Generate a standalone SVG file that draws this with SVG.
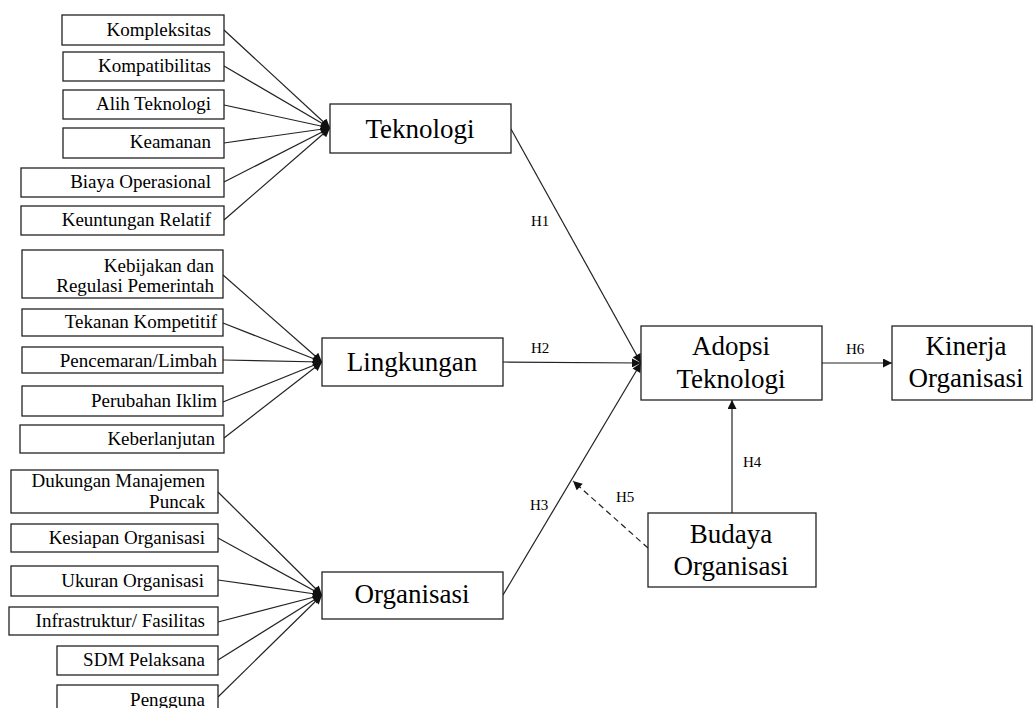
<svg xmlns="http://www.w3.org/2000/svg" width="1033" height="708" viewBox="0 0 1033 708">
<defs>
<style>
rect{fill:#fff;stroke:#222;stroke-width:1.3}
text{font-family:'Liberation Serif','Times New Roman',serif;fill:#000}
.s{font-size:19px;text-anchor:end}
.m{font-size:27px;text-anchor:middle}
.h{font-size:15px}
.c line{stroke:#222;stroke-width:1.2;fill:none;marker-end:url(#ah)}
.c line.d{stroke-dasharray:6,4}
</style>
<marker id="ah" viewBox="0 0 10 10" refX="10" refY="5" markerWidth="10" markerHeight="9" orient="auto" markerUnits="userSpaceOnUse">
<path d="M0,0 L10,5 L0,10 z" fill="#111"/>
</marker>
</defs>
<rect x="0" y="0" width="1033" height="708" style="fill:#fff;stroke:none"/>
<g class="c" id="connectors">
<line x1="224" y1="30" x2="330" y2="128"/>
<line x1="224" y1="66" x2="330" y2="128"/>
<line x1="224" y1="105" x2="330" y2="128"/>
<line x1="224" y1="143" x2="330" y2="128"/>
<line x1="224" y1="182" x2="330" y2="128"/>
<line x1="224" y1="220" x2="330" y2="128"/>
<line x1="223" y1="275" x2="322" y2="362"/>
<line x1="223" y1="323" x2="322" y2="362"/>
<line x1="223" y1="360" x2="322" y2="362"/>
<line x1="223" y1="402" x2="322" y2="362"/>
<line x1="224" y1="438" x2="322" y2="362"/>
<line x1="218" y1="492" x2="322" y2="595"/>
<line x1="218" y1="538" x2="322" y2="595"/>
<line x1="218" y1="580" x2="322" y2="595"/>
<line x1="218" y1="622" x2="322" y2="595"/>
<line x1="218" y1="660" x2="322" y2="595"/>
<line x1="218" y1="697" x2="322" y2="595"/>
<line x1="511" y1="129" x2="641" y2="363"/>
<line x1="503" y1="362" x2="641" y2="363"/>
<line x1="503" y1="595" x2="641" y2="363"/>
<line x1="732" y1="513" x2="732" y2="400"/>
<line class="d" x1="648" y1="548" x2="573" y2="481"/>
<line x1="822" y1="363" x2="892" y2="363"/>
<text class="h" x="531" y="226">H1</text>
<text class="h" x="531" y="353">H2</text>
<text class="h" x="530" y="510">H3</text>
<text class="h" x="743" y="467">H4</text>
<text class="h" x="616" y="502">H5</text>
<text class="h" x="846" y="354">H6</text>
</g>
<g id="kompleksitas"><rect x="62" y="15" width="162" height="30"/><text class="s" x="211" y="36">Kompleksitas</text></g>
<g id="kompatibilitas"><rect x="63" y="52" width="161" height="29"/><text class="s" x="211" y="72">Kompatibilitas</text></g>
<g id="alih-teknologi"><rect x="63" y="90" width="161" height="29"/><text class="s" x="211" y="110">Alih Teknologi</text></g>
<g id="keamanan"><rect x="63" y="128" width="161" height="30"/><text class="s" x="211" y="148">Keamanan</text></g>
<g id="biaya-operasional"><rect x="21" y="168" width="203" height="29"/><text class="s" x="211" y="188">Biaya Operasional</text></g>
<g id="keuntungan-relatif"><rect x="21" y="206" width="203" height="29"/><text class="s" x="211" y="226">Keuntungan Relatif</text></g>
<g id="kebijakan"><rect x="22" y="250" width="201" height="48"/><text class="s" x="214" y="272">Kebijakan dan</text><text class="s" x="214" y="292">Regulasi Pemerintah</text></g>
<g id="tekanan"><rect x="22" y="309" width="201" height="27"/><text class="s" x="217" y="328">Tekanan Kompetitif</text></g>
<g id="pencemaran"><rect x="22" y="347" width="201" height="26"/><text class="s" x="217" y="367">Pencemaran/Limbah</text></g>
<g id="perubahan-iklim"><rect x="22" y="386" width="201" height="30"/><text class="s" x="217" y="407">Perubahan Iklim</text></g>
<g id="keberlanjutan"><rect x="20" y="425" width="204" height="28"/><text class="s" x="215" y="445">Keberlanjutan</text></g>
<g id="dukungan"><rect x="11" y="470" width="207" height="43"/><text class="s" x="205" y="487">Dukungan Manajemen</text><text class="s" x="205" y="508">Puncak</text></g>
<g id="kesiapan"><rect x="11" y="524" width="207" height="28"/><text class="s" x="205" y="544">Kesiapan Organisasi</text></g>
<g id="ukuran"><rect x="11" y="566" width="207" height="30"/><text class="s" x="204" y="587">Ukuran Organisasi</text></g>
<g id="infrastruktur"><rect x="9" y="607" width="209" height="28"/><text class="s" x="205" y="627">Infrastruktur/ Fasilitas</text></g>
<g id="sdm"><rect x="57" y="646" width="161" height="29"/><text class="s" x="205" y="666">SDM Pelaksana</text></g>
<g id="pengguna"><rect x="57" y="685" width="161" height="40"/><text class="s" x="205" y="706">Pengguna</text></g>
<g id="teknologi"><rect x="330" y="104" width="181" height="49"/><text class="m" x="420" y="138">Teknologi</text></g>
<g id="lingkungan"><rect x="322" y="338" width="181" height="48"/><text class="m" x="412" y="371">Lingkungan</text></g>
<g id="organisasi"><rect x="322" y="572" width="181" height="47"/><text class="m" x="412" y="603">Organisasi</text></g>
<g id="adopsi-teknologi"><rect x="641" y="326" width="181" height="74"/><text class="m" x="731" y="355">Adopsi</text><text class="m" x="731" y="388">Teknologi</text></g>
<g id="kinerja-organisasi"><rect x="892" y="326" width="140" height="74"/><text class="m" x="966" y="355">Kinerja</text><text class="m" x="966" y="387">Organisasi</text></g>
<g id="budaya-organisasi"><rect x="648" y="513" width="168" height="74"/><text class="m" x="731" y="543">Budaya</text><text class="m" x="731" y="575">Organisasi</text></g>
</svg>
